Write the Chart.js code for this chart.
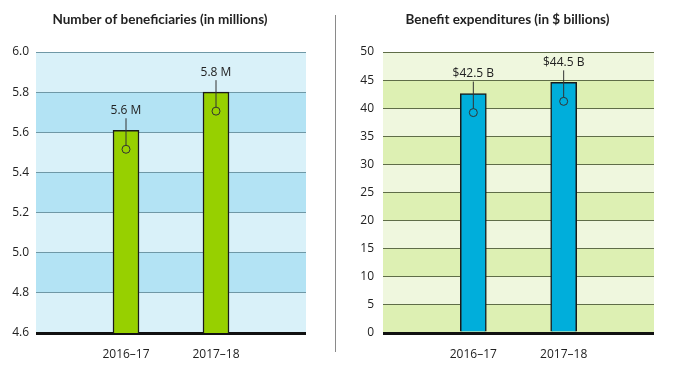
<!DOCTYPE html>
<html>
<head>
<meta charset="utf-8">
<script src="https://cdn.jsdelivr.net/npm/chart.js@4"></script>
<style>
  html, body { margin: 0; padding: 0; background: #fff; }
  #wrap { position: relative; width: 679px; height: 373px; }
  #leftBox { position: absolute; left: 0; top: 0; width: 320px; height: 373px; }
  #rightBox { position: absolute; left: 340px; top: 0; width: 335px; height: 373px; }
  #divider { position: absolute; left: 335px; top: 15px; width: 1px; height: 337px; background: #8a8a8a; }
</style>
</head>
<body>
<div id="wrap">
  <div id="leftBox"><canvas id="benChart"></canvas></div>
  <div id="divider"></div>
  <div id="rightBox"><canvas id="expChart"></canvas></div>
</div>
<script>
// data
const periods = ['2016–17', '2017–18'];
const beneficiaries = [5.61, 5.80];
const beneficiaryLabels = ['5.6 M', '5.8 M'];
const expenditures = [42.6, 44.6];
const expenditureLabels = ['$42.5 B', '$44.5 B'];
const benTicks = { min: 4.6, max: 6.0, step: 0.2 };
const expTicks = { min: 0, max: 50, step: 5 };

const LABEL_FONT = '12px "Open Sans", sans-serif';

// alternating background bands between y ticks
const bandPlugin = {
  id: 'bands',
  beforeDraw(chart, args, opts) {
    const { ctx, chartArea: a, scales: { y } } = chart;
    ctx.save();
    for (let i = 0; i < y.ticks.length - 1; i++) {
      const y0 = y.getPixelForValue(y.ticks[i].value);
      const y1 = y.getPixelForValue(y.ticks[i + 1].value);
      const dark = (i % 2 === 0) === opts.firstDark;
      ctx.fillStyle = dark ? opts.dark : opts.light;
      ctx.fillRect(a.left, y1, a.right - a.left, y0 - y1);
    }
    ctx.restore();
  }
};

// panel heading, centred on the whole canvas (not just the plot area)
const headingPlugin = {
  id: 'heading',
  afterDraw(chart, args, opts) {
    const { ctx } = chart;
    ctx.save();
    ctx.fillStyle = '#222';
    ctx.font = 'bold 13.5px Lato, sans-serif';
    ctx.textAlign = 'center';
    ctx.textBaseline = 'middle';
    ctx.fillText(opts.text, chart.width / 2, 20);
    ctx.restore();
  }
};

// value label above each bar with a leader line ending in a small circle
const calloutPlugin = {
  id: 'callout',
  afterDatasetsDraw(chart, args, opts) {
    const { ctx } = chart;
    const meta = chart.getDatasetMeta(0);
    const vals = chart.data.datasets[0].data;
    ctx.save();
    meta.data.forEach((bar, i) => {
      const txt = opts.labels[i];
      if (!txt || vals[i] == null) return;
      const x = bar.x, top = bar.y;
      const ty = top - 20, cy = top + 19, r = 4;
      ctx.fillStyle = '#222';
      ctx.font = LABEL_FONT;
      ctx.textAlign = 'center';
      ctx.textBaseline = 'middle';
      ctx.fillText(txt, x, ty);
      ctx.strokeStyle = '#333';
      ctx.lineWidth = 1;
      ctx.beginPath();
      ctx.moveTo(x, ty + 8);
      ctx.lineTo(x, cy - r);
      ctx.stroke();
      ctx.beginPath();
      ctx.arc(x, cy, r, 0, Math.PI * 2);
      ctx.stroke();
    });
    ctx.restore();
  }
};

function makeChart(id, opts) {
  // empty categories either side push the two bars inwards
  const labels = ['', ...periods, ''];
  const data = [null, ...opts.values, null];
  const callouts = ['', ...opts.callouts, ''];
  return new Chart(document.getElementById(id), {
    type: 'bar',
    data: { labels, datasets: [{
      data,
      backgroundColor: opts.barColor,
      borderColor: '#1a1a1a',
      borderWidth: 1.5,
      borderSkipped: 'bottom',
      barThickness: 26
    }]},
    plugins: [bandPlugin, calloutPlugin, headingPlugin],
    options: {
      responsive: true,
      maintainAspectRatio: false,
      animation: false,
      layout: { padding: { left: 0, right: opts.padRight, top: 52, bottom: 0 } },
      plugins: {
        legend: { display: false },
        tooltip: { enabled: false },
        title: { display: false },
        heading: { text: opts.title },
        bands: { firstDark: opts.firstDark, light: opts.light, dark: opts.dark },
        callout: { labels: callouts }
      },
      scales: {
        x: {
          offset: false,
          grid: { display: false },
          border: { display: false },
          ticks: { autoSkip: false, maxRotation: 0, color: '#222', font: { family: '"Open Sans", sans-serif', size: 12 }, padding: 6 },
          afterFit(s) { s.height = 40; }
        },
        y: {
          min: opts.ticks.min, max: opts.ticks.max,
          border: { display: false },
          grid: {
            drawTicks: false,
            color: c => c.index === 0 ? '#111' : opts.gridColor,
            lineWidth: c => c.index === 0 ? 3 : 1
          },
          ticks: {
            stepSize: opts.ticks.step, padding: opts.tickPad, color: '#222',
            font: { family: '"Open Sans", sans-serif', size: 12 },
            callback: v => opts.fmt(v)
          },
          afterFit(s) { s.width = opts.axisWidth; }
        }
      }
    }
  });
}

makeChart('benChart', {
  title: 'Number of beneficiaries (in millions)',
  values: beneficiaries, callouts: beneficiaryLabels, ticks: benTicks,
  barColor: '#97d000', light: '#d9f1f9', dark: '#b3e3f4', firstDark: false,
  gridColor: '#6f98a6', axisWidth: 36, tickPad: 7, padRight: 14,
  fmt: v => v.toFixed(1)
});

makeChart('expChart', {
  title: 'Benefit expenditures (in $ billions)',
  values: expenditures, callouts: expenditureLabels, ticks: expTicks,
  barColor: '#00aedb', light: '#eff7de', dark: '#ddf0b3', firstDark: true,
  gridColor: '#5f6d48', axisWidth: 43, tickPad: 9, padRight: 21,
  fmt: v => String(v)
});
</script>
</body>
</html>
